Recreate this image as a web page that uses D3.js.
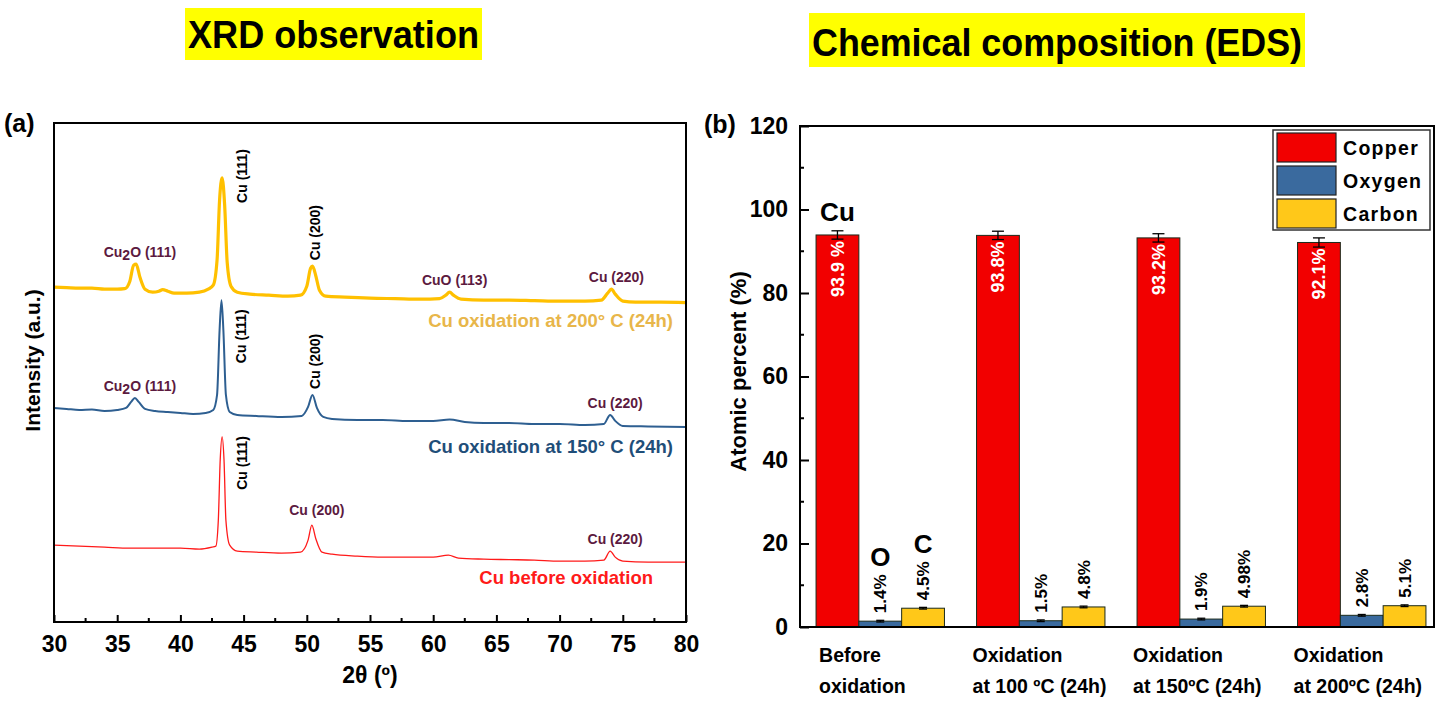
<!DOCTYPE html>
<html>
<head>
<meta charset="utf-8">
<script src="https://cdn.jsdelivr.net/npm/d3@7"></script>
<style>
  html, body { margin: 0; padding: 0; background: #fff; }
  svg { display: block; }
  text { font-family: "Liberation Sans", Arial, sans-serif; }
</style>
</head>
<body>
<svg id="chart" width="1452" height="701"></svg>
<script>
// ---------------- DATA ----------------
// XRD patterns: [2theta (deg), intensity (a.u., offset stacked)]
const xrd200 = [
  [30.0,67.1],[31.0,67.0],[32.0,66.9],[33.0,66.9],[34.0,66.7],[35.0,66.7],[35.6,66.8],[36.0,68.3],
  [36.3,71.5],[36.5,71.7],[36.8,69.1],[37.2,66.7],[37.8,66.1],[38.3,66.3],[38.6,66.6],[39.0,66.3],
  [39.5,65.9],[40.5,65.9],[41.5,66.1],[42.2,66.7],[42.6,67.5],[42.9,72.5],[43.1,84.6],[43.3,89.0],
  [43.5,83.6],[43.7,72.1],[44.0,67.3],[44.5,66.1],[45.5,65.7],[47.0,65.5],[48.5,65.3],[49.5,65.5],
  [50.0,67.3],[50.3,70.9],[50.45,71.3],[50.7,69.5],[51.0,66.5],[51.5,65.3],[53.0,65.1],[55.0,64.9],
  [57.0,64.8],[59.0,64.7],[60.5,64.8],[61.0,65.5],[61.3,66.1],[61.6,65.5],[62.2,64.7],[64.0,64.5],
  [66.0,64.5],[68.0,64.4],[70.0,64.3],[72.0,64.3],[73.3,64.5],[73.8,65.9],[74.1,66.7],[74.4,65.7],
  [75.0,64.3],[76.0,64.1],[78.0,64.1],[80.0,64.0]
];
const xrd150 = [
  [30.0,42.9],[31.0,42.7],[32.0,42.5],[33.0,42.6],[34.0,42.3],[35.0,42.5],[35.7,42.9],[36.1,44.1],
  [36.4,44.9],[36.7,44.1],[37.2,42.7],[38.0,42.3],[39.0,42.1],[40.0,41.9],[41.0,41.7],[42.0,41.9],
  [42.6,42.5],[42.9,45.5],[43.1,58.5],[43.25,64.5],[43.4,58.5],[43.6,45.5],[43.9,42.1],[44.5,41.5],
  [46.0,41.3],[48.0,41.1],[49.6,41.3],[50.1,43.1],[50.45,45.5],[50.8,42.9],[51.3,41.1],[52.0,40.7],
  [54.0,40.5],[56.0,40.5],[58.0,40.3],[60.0,40.3],[61.3,40.6],[62.5,40.1],[64.0,39.9],[66.0,39.9],
  [68.0,39.7],[70.0,39.7],[72.0,39.5],[73.5,39.7],[74.0,41.5],[74.4,40.3],[75.0,39.3],[77.0,39.2],
  [80.0,39.1]
];
const xrdBefore = [
  [30.0,15.4],[32.0,15.2],[34.0,15.0],[36.0,14.8],[38.0,14.8],[40.0,14.8],[41.5,14.6],[42.5,15.0],
  [42.8,15.2],[43.0,20.4],[43.15,32.5],[43.3,37.1],[43.45,32.5],[43.6,20.4],[43.9,15.4],[44.5,14.2],
  [46.0,14.0],[48.0,13.8],[49.5,14.0],[50.1,16.4],[50.4,19.4],[50.7,16.8],[51.2,14.0],[52.0,13.6],
  [54.0,13.2],[56.0,13.0],[58.0,13.0],[60.0,13.0],[61.2,13.4],[62.0,12.8],[64.0,12.6],[66.0,12.5],
  [68.0,12.4],[70.0,12.2],[72.0,12.2],[73.5,12.4],[74.0,14.2],[74.4,13.0],[75.0,12.2],[77.0,12.0],
  [80.0,12.0]
];
const xrdSeriesNames = ["Cu oxidation at 200° C (24h)", "Cu oxidation at 150° C (24h)", "Cu before oxidation"];
const xrdTicks = [30, 35, 40, 45, 50, 55, 60, 65, 70, 75, 80];

// Peak annotations: [series index, label, 2theta, intensity at peak, rotated?]
const peakNotes = [
  [0, "Cu2O (111)", 36.4, 71.7, false],
  [0, "Cu (111)", 43.3, 89.0, true],
  [0, "Cu (200)", 50.45, 71.3, true],
  [0, "CuO (113)", 61.3, 66.1, false],
  [0, "Cu (220)", 74.1, 66.7, false],
  [1, "Cu2O (111)", 36.4, 44.9, false],
  [1, "Cu (111)", 43.25, 64.5, true],
  [1, "Cu (200)", 50.45, 45.5, true],
  [1, "Cu (220)", 74.0, 41.5, false],
  [2, "Cu (111)", 43.3, 37.1, true],
  [2, "Cu (200)", 50.4, 19.4, false],
  [2, "Cu (220)", 74.0, 14.2, false]
];

// EDS
const edsCategoriesLine1 = ["Before", "Oxidation", "Oxidation", "Oxidation"];
const edsCategoriesLine2 = ["oxidation", "at 100 ºC (24h)", "at 150ºC (24h)", "at 200ºC (24h)"];
const elements = ["Copper", "Oxygen", "Carbon"];
const copperVals = [93.9, 93.8, 93.2, 92.1];
const oxygenVals = [1.4, 1.5, 1.9, 2.8];
const carbonVals = [4.5, 4.8, 4.98, 5.1];
const copperErr = [1.0, 1.0, 1.0, 1.1];
const oxygenErr = [0.2, 0.2, 0.2, 0.2];
const carbonErr = [0.2, 0.2, 0.2, 0.2];
const copperLabels = ["93.9 %", "93.8%", "93.2%", "92.1%"];
const oxygenLabels = ["1.4%", "1.5%", "1.9%", "2.8%"];
const carbonLabels = ["4.5%", "4.8%", "4.98%", "5.1%"];
const elementSymbols = ["Cu", "O", "C"];
const edsTicks = [0, 20, 40, 60, 80, 100, 120];

// ---------------- DRAW ----------------
const svg = d3.select("#chart");
const titleFont = "Lato, 'Open Sans', sans-serif";

// Titles with yellow highlight
function title(txt, x0, x1, yTop, yBot, baseline) {
  svg.append("rect").attr("x", x0).attr("y", yTop).attr("width", x1 - x0).attr("height", yBot - yTop).attr("fill", "#ffff00");
  svg.append("text").attr("x", x0 + 3).attr("y", baseline)
    .attr("font-family", titleFont).attr("font-weight", 700).attr("font-size", 38)
    .attr("textLength", x1 - x0 - 6).attr("lengthAdjust", "spacingAndGlyphs")
    .attr("fill", "#000").text(txt);
}
title("XRD observation", 185, 482, 8, 60, 48);
title("Chemical composition (EDS)", 809, 1305, 13, 67, 56);

// ===== Panel (a) XRD =====
const A = {l: 54, r: 686, t: 123, b: 622};
const xA = d3.scaleLinear().domain([30, 80]).range([A.l, A.r]);
const yA = d3.scaleLinear().domain([0, 100]).range([A.b, A.t]);
const xrdColors = ["#ffc000", "#2e5f91", "#ff1a1a"];
const labelColors = ["#e8b64a", "#1f4e79", "#ff1a1a"];
const xrdWidths = [3.2, 2.0, 1.3];
const series = [xrd200, xrd150, xrdBefore];
const line = d3.line().x(d => xA(d[0])).y(d => yA(d[1])).curve(d3.curveMonotoneX);

svg.append("text").attr("x", 4).attr("y", 132).attr("font-size", 25).attr("font-weight", "bold").text("(a)");

series.forEach((s, i) => {
  svg.append("path").datum(s).attr("d", line).attr("fill", "none")
    .attr("stroke", xrdColors[i]).attr("stroke-width", xrdWidths[i]).attr("stroke-linejoin", "round");
});

// frame
svg.append("rect").attr("x", A.l).attr("y", A.t).attr("width", A.r - A.l).attr("height", A.b - A.t)
  .attr("fill", "none").attr("stroke", "#000").attr("stroke-width", 2);

// x axis (inward ticks)
const axA = d3.axisBottom(xA).tickValues(xrdTicks).tickSize(-7).tickPadding(14).tickFormat(d3.format("d"));
const gxa = svg.append("g").attr("transform", `translate(0,${A.b})`).call(axA);
gxa.select(".domain").remove();
gxa.selectAll("line").attr("stroke", "#000").attr("stroke-width", 2);
gxa.selectAll("text").attr("font-size", 23).attr("font-weight", "bold").attr("fill", "#000")
  .attr("font-family", "'Liberation Sans Narrow', 'Liberation Sans', Arial, sans-serif");
const minorA = d3.range(32.5, 80, 5);
svg.append("g").selectAll("line").data(minorA).join("line")
  .attr("x1", d => xA(d)).attr("x2", d => xA(d)).attr("y1", A.b).attr("y2", A.b - 4)
  .attr("stroke", "#000").attr("stroke-width", 2);

svg.append("text").attr("x", (A.l + A.r) / 2).attr("y", 683).attr("text-anchor", "middle")
  .attr("font-size", 23).attr("font-weight", "bold")
  .attr("font-family", "'Liberation Sans Narrow', 'Liberation Sans', Arial, sans-serif").text("2θ (º)");
svg.append("text").attr("transform", `translate(40,${(A.t + A.b) / 2 - 12}) rotate(-90)`)
  .attr("text-anchor", "middle").attr("font-size", 21).attr("font-weight", "bold").text("Intensity (a.u.)");

// peak annotations
const noteColor = "#5c1a40";
peakNotes.forEach(n => {
  const [si, txt, tt, iv, rot] = n;
  const px = xA(tt), py = yA(iv);
  if (rot) {
    const isSide = txt === "Cu (111)";
    const tx = isSide ? px + 20 : px + 3;
    const ty = isSide ? (si === 0 ? py + 25 : (si === 1 ? py + 63 : py + 53)) : py - 6;
    svg.append("text").attr("transform", `translate(${tx},${ty}) rotate(-90)`)
      .attr("dy", "0.35em").attr("font-size", 14).attr("font-weight", "bold").attr("fill", "#000").text(txt);
  } else {
    const t = svg.append("text").attr("x", px + 5).attr("y", py - (si === 2 && txt === "Cu (200)" ? 10 : 7))
      .attr("text-anchor", "middle").attr("font-size", 14).attr("font-weight", "bold").attr("fill", noteColor);
    if (txt.startsWith("Cu2O")) {
      t.append("tspan").text("Cu");
      t.append("tspan").attr("dy", 3).text("2");
      t.append("tspan").attr("dy", -3).text("O (111)");
    } else {
      t.text(txt);
    }
  }
});

// series labels
const seriesLabelPos = [[673, 327], [673, 453], [653, 584]];
xrdSeriesNames.forEach((nm, i) => {
  svg.append("text").attr("x", seriesLabelPos[i][0]).attr("y", seriesLabelPos[i][1])
    .attr("text-anchor", "end").attr("font-size", 18.5).attr("font-weight", "bold")
    .attr("fill", labelColors[i]).text(nm);
});

// ===== Panel (b) EDS =====
const B = {l: 800, r: 1434, t: 126, b: 627};
const yB = d3.scaleLinear().domain([0, 120]).range([B.b, B.t]);
const x0 = d3.scaleBand().domain(edsCategoriesLine2).range([800, 1442]).paddingInner(0.2).paddingOuter(0.1);
const x1 = d3.scaleBand().domain(elements).range([0, x0.bandwidth()]).padding(0);
const barColors = {Copper: "#f20000", Oxygen: "#3a6a9e", Carbon: "#ffc819"};
const valsBy = {Copper: copperVals, Oxygen: oxygenVals, Carbon: carbonVals};
const errBy = {Copper: copperErr, Oxygen: oxygenErr, Carbon: carbonErr};

svg.append("text").attr("x", 704).attr("y", 133).attr("font-size", 25).attr("font-weight", "bold").text("(b)");

const groups = svg.append("g").selectAll("g").data(edsCategoriesLine2).join("g")
  .attr("transform", d => `translate(${x0(d)},0)`);

groups.each(function(cat, ci) {
  const g = d3.select(this);
  elements.forEach((el, ei) => {
    const v = valsBy[el][ci], e = errBy[el][ci];
    const bx = x1(el), bw = x1.bandwidth();
    g.append("rect").attr("x", bx).attr("y", yB(v)).attr("width", bw).attr("height", yB(0) - yB(v))
      .attr("fill", barColors[el]).attr("stroke", "#1b2a1b").attr("stroke-width", 1);
    const cx = bx + bw / 2;
    const capW = el === "Copper" ? 6 : 4;
    g.append("line").attr("x1", cx).attr("x2", cx).attr("y1", yB(v - e)).attr("y2", yB(v + e)).attr("stroke", "#000").attr("stroke-width", 1.3);
    g.append("line").attr("x1", cx - capW).attr("x2", cx + capW).attr("y1", yB(v + e)).attr("y2", yB(v + e)).attr("stroke", "#000").attr("stroke-width", 1.3);
    g.append("line").attr("x1", cx - capW).attr("x2", cx + capW).attr("y1", yB(v - e)).attr("y2", yB(v - e)).attr("stroke", "#000").attr("stroke-width", 1.3);
  });
  const cxCu = x1("Copper") + x1.bandwidth() / 2;
  g.append("text").attr("transform", `translate(${cxCu},${yB(copperVals[ci]) + 6}) rotate(-90)`)
    .attr("dy", "0.35em").attr("text-anchor", "end").attr("font-size", 18).attr("font-weight", "bold")
    .attr("fill", "#ffffff").text(copperLabels[ci]);
  [["Oxygen", oxygenLabels], ["Carbon", carbonLabels]].forEach(([el, labs], k) => {
    const cx = x1(el) + x1.bandwidth() / 2;
    const v = valsBy[el][ci];
    const t = g.append("text").attr("transform", `translate(${cx},${yB(v) - 8}) rotate(-90)`)
      .attr("dy", "0.35em").attr("text-anchor", "start").attr("font-size", 17).attr("font-weight", "bold")
      .attr("fill", "#000").text(labs[ci]);
    if (ci === 0) {
      const len = t.node().getComputedTextLength();
      g.append("text").attr("x", cx).attr("y", yB(v) - 8 - len - 8).attr("text-anchor", "middle")
        .attr("font-family", titleFont).attr("font-weight", "bold").attr("font-size", 26).text(elementSymbols[k + 1]);
    }
  });
  if (ci === 0) {
    g.append("text").attr("x", cxCu).attr("y", yB(copperVals[0] + copperErr[0]) - 10).attr("text-anchor", "middle")
      .attr("font-family", titleFont).attr("font-weight", "bold").attr("font-size", 26).text(elementSymbols[0]);
  }
  const lx = x1("Copper") + (ci === 0 ? 3 : -4);
  g.append("text").attr("x", lx).attr("y", 662).attr("font-size", 19.5).attr("font-weight", "bold").text(edsCategoriesLine1[ci]);
  g.append("text").attr("x", lx).attr("y", 693).attr("font-size", 19.5).attr("font-weight", "bold").text(edsCategoriesLine2[ci]);
});

// frame
svg.append("rect").attr("x", B.l).attr("y", B.t).attr("width", B.r - B.l).attr("height", B.b - B.t)
  .attr("fill", "none").attr("stroke", "#000").attr("stroke-width", 2);

// y axis
const ayB = d3.axisLeft(yB).tickValues(edsTicks).tickSize(-9).tickPadding(12).tickFormat(d3.format("d"));
const gyb = svg.append("g").attr("transform", `translate(${B.l},0)`).call(ayB);
gyb.select(".domain").remove();
gyb.selectAll("line").attr("stroke", "#000").attr("stroke-width", 2);
gyb.selectAll("text").attr("font-size", 23).attr("font-weight", "bold").attr("fill", "#000");
svg.append("g").selectAll("line").data(d3.range(10, 120, 20)).join("line")
  .attr("x1", B.l).attr("x2", B.l + 4).attr("y1", d => yB(d)).attr("y2", d => yB(d))
  .attr("stroke", "#000").attr("stroke-width", 2);

svg.append("text").attr("transform", `translate(746,${(B.t + B.b) / 2 - 5}) rotate(-90)`)
  .attr("text-anchor", "middle").attr("font-size", 22).attr("font-weight", "bold").text("Atomic percent (%)");

// legend
const L = {x: 1273, y: 130, w: 157, h: 100};
svg.append("rect").attr("x", L.x).attr("y", L.y).attr("width", L.w).attr("height", L.h)
  .attr("fill", "#fff").attr("stroke", "#333").attr("stroke-width", 1.5);
elements.forEach((el, i) => {
  const ry = L.y + 3 + i * 33;
  svg.append("rect").attr("x", L.x + 4).attr("y", ry).attr("width", 59).attr("height", 29)
    .attr("fill", barColors[el]).attr("stroke", "#222").attr("stroke-width", 1.2);
  svg.append("text").attr("x", L.x + 70).attr("y", ry + 22).attr("font-size", 19.5).attr("font-weight", "bold")
    .attr("letter-spacing", 1.3).text(el);
});
</script>
</body>
</html>
